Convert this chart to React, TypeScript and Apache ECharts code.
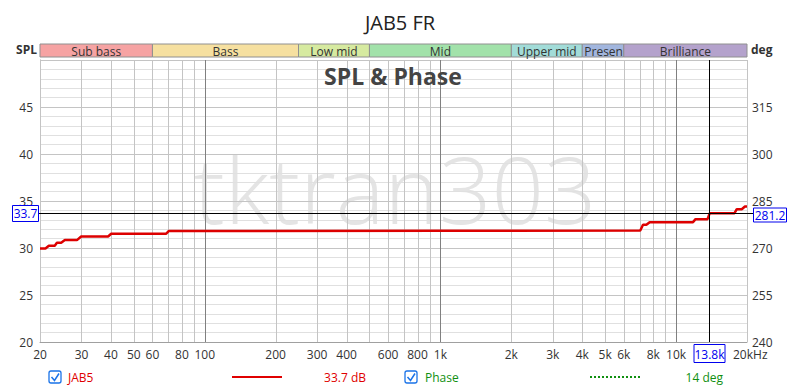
import React, { useEffect, useRef } from "react";
import * as echarts from "echarts";

const splData: [number, number][] = [
  [20, 29.95], [21.1, 29.95], [21.8, 30.23], [23.1, 30.23], [23.6, 30.55], [24.6, 30.55],
  [25.5, 30.84], [28.7, 30.84], [29.9, 31.22], [38.9, 31.22], [40.1, 31.51], [68.5, 31.51],
  [70.3, 31.8], [1000, 31.84], [7050, 31.86], [7240, 32.47], [7480, 32.47], [7730, 32.75],
  [11800, 32.75], [12100, 33.07], [13600, 33.07], [13900, 33.71], [17700, 33.71],
  [18100, 34.13], [19000, 34.13], [19600, 34.41], [20000, 34.41],
];

const gridFreqs: number[] = [
  20, 30, 40, 50, 60, 70, 80, 90, 100, 200, 300, 400, 500, 600, 700, 800, 900,
  1000, 2000, 3000, 4000, 5000, 6000, 7000, 8000, 9000, 10000, 20000,
];
const decadeFreqs: number[] = [100, 1000, 10000];

const tickFreqs: number[] = [20, 30, 40, 50, 60, 80, 100, 200, 300, 400, 600, 800, 1000, 2000, 3000, 4000, 5000, 6000, 8000, 10000, 20000];
const tickLabels: string[] = ["20", "30", "40", "50", "60", "80", "100", "200", "300", "400", "600", "800", "1k", "2k", "3k", "4k", "5k", "6k", "8k", "10k", "20kHz"];

const bandStarts: number[] = [20, 60, 250, 500, 2000, 4000, 6000];
const bandEnds: number[] = [60, 250, 500, 2000, 4000, 6000, 20000];
const bandNames: string[] = ["Sub bass", "Bass", "Low mid", "Mid", "Upper mid", "Presence", "Brilliance"];
const bandColors: string[] = ["#f6a3a3", "#f6e0a0", "#d6eaa0", "#a2e2aa", "#a2dcd8", "#a2b6de", "#b4a2cc"];

const cursorFreq = 13800;
const cursorSpl = 33.7;
const cursorPhase = 281.2;
const cursorFreqLabel = "13.8k";

const FONT = "'Open Sans', 'Noto Sans', sans-serif";

export default function App() {
  const ref = useRef<HTMLDivElement>(null);
  useEffect(() => {
    if (!ref.current) return;
    const chart = echarts.init(ref.current, undefined, { renderer: "svg" });

    const option: any = {
      animation: false,
      backgroundColor: "#ffffff",
      textStyle: { fontFamily: FONT },
      title: [
        {
          text: "JAB5 FR",
          left: "center",
          top: 7,
          textStyle: { fontSize: 20, fontWeight: "normal", color: "#222", fontFamily: FONT },
        },
      ],
      grid: { left: 40, right: 53, top: 60, bottom: 47, containLabel: false },
      xAxis: {
        type: "log",
        logBase: 10,
        min: 20,
        max: 20000,
        axisLabel: { show: false },
        axisTick: { show: false },
        splitLine: { show: false },
        axisLine: { show: true, lineStyle: { color: "#a0a0a0", width: 1 } },
      },
      yAxis: [
        {
          type: "value",
          min: 20,
          max: 50,
          interval: 5,
          position: "left",
          axisLabel: { showMaxLabel: false, color: "#333", fontSize: 12, margin: 7, fontFamily: FONT },
          axisTick: { show: false },
          axisLine: { show: true, lineStyle: { color: "#a0a0a0" } },
          splitLine: { show: true, lineStyle: { color: "#c4c4c4", width: 1 } },
          minorTick: { show: false, splitNumber: 5 },
          minorSplitLine: { show: true, lineStyle: { color: "#e0e0e0", width: 1 } },
        },
        {
          type: "value",
          min: 240,
          max: 330,
          interval: 15,
          position: "right",
          axisLabel: { showMaxLabel: false, color: "#333", fontSize: 12, margin: 5, fontFamily: FONT },
          axisTick: { show: false },
          axisLine: { show: false },
          splitLine: { show: false },
        },
      ],
      graphic: [
        {
          type: "text",
          left: 194,
          top: 142,
          silent: true,
          z: 0,
          style: { text: "tktran303", fontSize: 92, fontWeight: 300, fontFamily: "'Open Sans', sans-serif", fill: "#e4e4e4" },
        },
        {
          type: "text",
          x: 393,
          y: 76,
          style: { text: "SPL & Phase", fontSize: 23, fontWeight: "bold", fill: "#444", align: "center", verticalAlign: "middle", fontFamily: FONT },
          z: 10,
        },
        { type: "text", x: 37, y: 49, style: { text: "SPL", fontSize: 12, fontWeight: "bold", fill: "#333", align: "right", verticalAlign: "middle", fontFamily: FONT } },
        { type: "text", x: 751, y: 49, style: { text: "deg", fontSize: 12, fontWeight: "bold", fill: "#333", align: "left", verticalAlign: "middle", fontFamily: FONT } },
        // legend
        { type: "rect", shape: { x: 49, y: 371, width: 12, height: 12, r: 2 }, style: { fill: "#fff", stroke: "#1a73e8", lineWidth: 1.3 } },
        { type: "polyline", shape: { points: [[51.5, 377], [54.5, 380.5], [59, 373.5]] }, style: { stroke: "#1a73e8", lineWidth: 1.5, fill: null } },
        { type: "text", x: 68, y: 377, style: { text: "JAB5", fontSize: 12, fill: "#e00000", verticalAlign: "middle", fontFamily: FONT } },
        { type: "line", shape: { x1: 232, y1: 377, x2: 282, y2: 377 }, style: { stroke: "#e00000", lineWidth: 2 } },
        { type: "text", x: 366, y: 377, style: { text: "33.7 dB", fontSize: 12, fill: "#e00000", align: "right", verticalAlign: "middle", fontFamily: FONT } },
        { type: "rect", shape: { x: 405, y: 371, width: 12, height: 12, r: 2 }, style: { fill: "#fff", stroke: "#1a73e8", lineWidth: 1.3 } },
        { type: "polyline", shape: { points: [[407.5, 377], [410.5, 380.5], [415, 373.5]] }, style: { stroke: "#1a73e8", lineWidth: 1.5, fill: null } },
        { type: "text", x: 425, y: 377, style: { text: "Phase", fontSize: 12, fill: "#109010", verticalAlign: "middle", fontFamily: FONT } },
        { type: "line", shape: { x1: 590, y1: 377, x2: 640, y2: 377 }, style: { stroke: "#109010", lineWidth: 2, lineDash: [2, 2] } },
        { type: "text", x: 723, y: 377, style: { text: "14 deg", fontSize: 12, fill: "#109010", align: "right", verticalAlign: "middle", fontFamily: FONT } },
      ],
      series: [
        {
          type: "custom",
          name: "vgrid",
          silent: true,
          z: 1,
          data: gridFreqs.map((f) => [f, 20]),
          encode: { x: 0, y: 1 },
          renderItem: (params: any, api: any) => {
            const f = api.value(0);
            const cs = params.coordSys;
            const x = Math.round(api.coord([f, 20])[0]) + 0.5;
            const dark = decadeFreqs.indexOf(f) >= 0;
            return {
              type: "line",
              shape: { x1: x, y1: cs.y, x2: x, y2: cs.y + cs.height },
              style: { stroke: dark ? "#808080" : "#c4c4c4", lineWidth: 1 },
            };
          },
          clip: false,
        },
        {
          type: "custom",
          name: "xlabels",
          silent: true,
          data: tickFreqs.map((f) => [f, 20]),
          encode: { x: 0, y: 1 },
          renderItem: (params: any, api: any) => {
            const f = api.value(0);
            const cs = params.coordSys;
            const x = api.coord([f, 20])[0];
            const label = tickLabels[params.dataIndex];
            const isLast = params.dataIndex === tickLabels.length - 1;
            return {
              type: "text",
              x: isLast ? x - 14 : x,
              y: cs.y + cs.height + 12,
              style: { text: label, fontSize: 12, fill: "#333", align: isLast ? "left" : "center", verticalAlign: "middle", fontFamily: FONT },
            };
          },
          clip: false,
        },
        {
          type: "custom",
          name: "bands",
          silent: true,
          data: bandStarts.map((s, i) => [s, bandEnds[i]]),
          encode: { x: [0, 1], y: 1 },
          renderItem: (params: any, api: any) => {
            const cs = params.coordSys;
            const x1 = api.coord([api.value(0), 20])[0];
            const x2 = api.coord([api.value(1), 20])[0];
            const i = params.dataIndex;
            const top = cs.y - 16;
            const w = x2 - x1;
            const textW = echarts.format.getTextRect
              ? 0
              : 0;
            const narrow = w < 50;
            return {
              type: "group",
              children: [
                {
                  type: "rect",
                  shape: { x: x1, y: top, width: w, height: 13 },
                  style: { fill: bandColors[i], stroke: "#909090", lineWidth: 1 },
                },
                {
                  type: "text",
                  x: narrow ? x1 + 2 : (x1 + x2) / 2,
                  y: top + 7,
                  clipPath: narrow ? { type: "rect", shape: { x: x1 - (x1 + 2) + 0.5, y: -10, width: w - 1, height: 20 } } : undefined,
                  style: { text: bandNames[i], fontSize: 12, fill: "#333", align: narrow ? "left" : "center", verticalAlign: "middle", fontFamily: FONT },
                },
              ],
            };
          },
          clip: false,
        },
        {
          type: "line",
          name: "JAB5",
          data: splData,
          yAxisIndex: 0,
          showSymbol: false,
          symbol: "none",
          z: 5,
          lineStyle: { color: "#dd0000", width: 2.5 },
        },
        {
          type: "custom",
          name: "cursor",
          silent: true,
          z: 6,
          data: [[cursorFreq, cursorSpl]],
          encode: { x: 0, y: 1 },
          renderItem: (params: any, api: any) => {
            const cs = params.coordSys;
            const p = api.coord([api.value(0), api.value(1)]);
            const x = Math.round(p[0]) + 0.5;
            const y = Math.round(p[1]) + 0.5;
            const bottom = cs.y + cs.height;
            const right = cs.x + cs.width;
            return {
              type: "group",
              children: [
                { type: "line", shape: { x1: x, y1: cs.y, x2: x, y2: bottom }, style: { stroke: "#000", lineWidth: 1 } },
                { type: "line", shape: { x1: cs.x - 2, y1: y, x2: right + 6, y2: y }, style: { stroke: "#000", lineWidth: 1 } },
                { type: "rect", shape: { x: 12.5, y: y - 8, width: 26, height: 16 }, style: { fill: "#fff", stroke: "#0000ee", lineWidth: 1 } },
                { type: "text", x: 25.5, y: y, style: { text: String(cursorSpl), fontSize: 12, fill: "#0000ee", align: "center", verticalAlign: "middle", fontFamily: FONT } },
                { type: "rect", shape: { x: right + 6.5, y: y - 5.5, width: 33, height: 14 }, style: { fill: "#fff", stroke: "#0000ee", lineWidth: 1 } },
                { type: "text", x: right + 23, y: y + 1.5, style: { text: String(cursorPhase), fontSize: 12, fill: "#0000ee", align: "center", verticalAlign: "middle", fontFamily: FONT } },
                { type: "rect", shape: { x: x - 15.5, y: bottom + 2.5, width: 31, height: 18 }, style: { fill: "#fff", stroke: "#0000ee", lineWidth: 1 } },
                { type: "text", x: x, y: bottom + 12, style: { text: cursorFreqLabel, fontSize: 12, fill: "#0000ee", align: "center", verticalAlign: "middle", fontFamily: FONT } },
              ],
            };
          },
          clip: false,
        },
      ],
    };
    chart.setOption(option);
    return () => chart.dispose();
  }, []);
  return <div ref={ref} style={{ position: "fixed", left: 0, top: 0, width: 800, height: 389 }} />;
}
